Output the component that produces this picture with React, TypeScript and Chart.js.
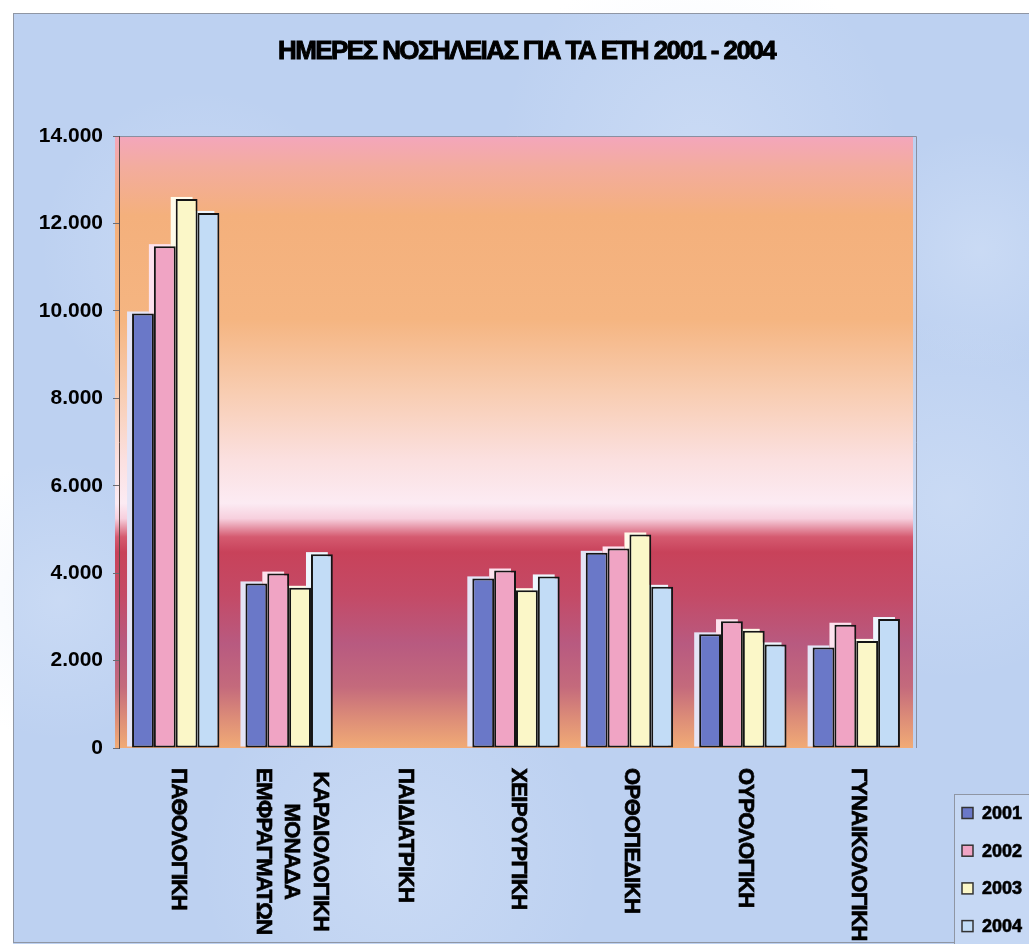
import { useEffect, useRef } from 'react';
import { Chart, registerables } from 'chart.js';

Chart.register(...registerables);

const categories: string[][] = [
  ['ΠΑΘΟΛΟΓΙΚΗ'],
  ['ΚΑΡΔΙΟΛΟΓΙΚΗ', 'ΜΟΝΑΔΑ', 'ΕΜΦΡΑΓΜΑΤΩΝ'],
  ['ΠΑΙΔΙΑΤΡΙΚΗ'],
  ['ΧΕΙΡΟΥΡΓΙΚΗ'],
  ['ΟΡΘΟΠΕΔΙΚΗ'],
  ['ΟΥΡΟΛΟΓΙΚΗ'],
  ['ΓΥΝΑΙΚΟΛΟΓΙΚΗ'],
];
const years = ['2001', '2002', '2003', '2004'];
const values2001 = [9940, 3765, null, 3880, 4465, 2600, 2300];
const values2002 = [11480, 3990, null, 4060, 4565, 2900, 2820];
const values2003 = [12560, 3665, null, 3610, 4885, 2680, 2450];
const values2004 = [12240, 4435, null, 3925, 3687, 2370, 2950];
const yTickLabels = ['0', '2.000', '4.000', '6.000', '8.000', '10.000', '12.000', '14.000'];
const titleText = 'ΗΜΕΡΕΣ ΝΟΣΗΛΕΙΑΣ ΓΙΑ ΤΑ ΕΤΗ 2001 - 2004';

const barColors = ['#6a78c8', '#f0a4c4', '#fbf7c8', '#c2dcf6'];
const glowColors = ['#e4e4f6', '#fde2ee', '#fffbea', '#eef6fe'];
const FONT = '"Liberation Sans", Arial, sans-serif';

const W = 1029;
const H = 944;

const decorPlugin = {
  id: 'decor',
  beforeDraw(chart: any) {
    const { ctx, chartArea } = chart;
    ctx.save();
    ctx.fillStyle = '#ffffff';
    ctx.fillRect(0, 0, W, H);
    ctx.fillStyle = '#bdd1f1';
    ctx.fillRect(13, 13, W, H);
    const blobs = [
      [200, 250, 160], [700, 150, 200], [950, 500, 180], [400, 860, 200], [60, 600, 140], [980, 250, 120],
    ];
    for (const [bx, by, br] of blobs) {
      const g = ctx.createRadialGradient(bx, by, 0, bx, by, br);
      g.addColorStop(0, 'rgba(225,235,250,0.35)');
      g.addColorStop(1, 'rgba(225,235,250,0)');
      ctx.fillStyle = g;
      ctx.fillRect(bx - br, by - br, br * 2, br * 2);
    }
    ctx.strokeStyle = '#8f96a4';
    ctx.lineWidth = 1;
    ctx.strokeRect(13.5, 13.5, W, H - 15);

    const top = chartArea.top;
    const bottom = chartArea.bottom;
    const grad = ctx.createLinearGradient(0, top, 0, bottom);
    const stops: [number, string][] = [
      [0.0, '#f3a6bc'],
      [0.05, '#f3ac9e'],
      [0.13, '#f4b07c'],
      [0.3, '#f5b581'],
      [0.42, '#f8cdb2'],
      [0.53, '#fbe0e0'],
      [0.6, '#fcebf3'],
      [0.625, '#f7d0de'],
      [0.655, '#d55a70'],
      [0.68, '#c8425a'],
      [0.75, '#c44a66'],
      [0.83, '#b85a80'],
      [0.9, '#c46a7c'],
      [0.95, '#dc8c78'],
      [1.0, '#f1ab76'],
    ];
    for (const [o, c] of stops) grad.addColorStop(o, c);
    ctx.fillStyle = grad;
    ctx.fillRect(chartArea.left - 4, top, chartArea.right - chartArea.left + 4, bottom - top);
    ctx.strokeStyle = '#8a8fa0';
    ctx.beginPath();
    ctx.moveTo(chartArea.left, top + 0.5);
    ctx.lineTo(chartArea.right + 3.5, top + 0.5);
    ctx.lineTo(chartArea.right + 3.5, bottom);
    ctx.stroke();
    ctx.restore();
  },
  beforeDatasetsDraw(chart: any) {
    const { ctx } = chart;
    ctx.save();
    chart.data.datasets.forEach((ds: any, di: number) => {
      const meta = chart.getDatasetMeta(di);
      meta.data.forEach((el: any, i: number) => {
        if (ds.data[i] == null) return;
        const p = el.getProps(['x', 'y', 'base', 'width'], true);
        const left = p.x - p.width / 2;
        ctx.fillStyle = glowColors[di];
        ctx.fillRect(left - 5, p.y - 2, p.width, p.base - p.y + 1);
      });
    });
    ctx.restore();
  },
  afterDraw(chart: any) {
    const { ctx } = chart;
    const xs = chart.scales.x;
    ctx.save();
    // title
    ctx.fillStyle = '#000';
    ctx.strokeStyle = '#000';
    ctx.lineWidth = 0.9;
    ctx.font = `bold 25px ${FONT}`;
    (ctx as any).letterSpacing = '-1.5px';
    ctx.textBaseline = 'middle';
    ctx.textAlign = 'center';
    const tw = ctx.measureText(titleText).width;
    const target = 497;
    ctx.translate(526.5, 52.5);
    ctx.scale(target / tw, 1);
    ctx.fillText(titleText, 0, 0);
    ctx.strokeText(titleText, 0, 0);
    ctx.restore();

    // x labels rotated clockwise
    ctx.save();
    ctx.fillStyle = '#000';
    ctx.strokeStyle = '#000';
    ctx.lineWidth = 0.7;
    ctx.font = `bold 22px ${FONT}`;
    (ctx as any).letterSpacing = '-0.5px';
    ctx.textBaseline = 'middle';
    ctx.textAlign = 'center';
    const lineH = 28.5;
    categories.forEach((lines, i) => {
      const cx = xs.getPixelForValue(i) + 2;
      const widths = lines.map((l) => ctx.measureText(l).width);
      const maxW = Math.max(...widths);
      const n = lines.length;
      lines.forEach((line, k) => {
        const lx = cx + ((n - 1) / 2 - k) * lineH;
        ctx.save();
        ctx.translate(lx, 768 + maxW / 2);
        ctx.rotate(Math.PI / 2);
        ctx.fillText(line, 0, 0);
        ctx.strokeText(line, 0, 0);
        ctx.restore();
      });
    });
    ctx.restore();

    // legend
    ctx.save();
    ctx.fillStyle = '#c6d8f4';
    ctx.fillRect(954, 794, 100, 200);
    ctx.strokeStyle = '#8f96a4';
    ctx.lineWidth = 1;
    ctx.strokeRect(954.5, 794.5, 100, 200);
    ctx.font = `bold 18px ${FONT}`;
    ctx.textBaseline = 'middle';
    ctx.textAlign = 'left';
    years.forEach((y, k) => {
      const cy = 813 + k * 37.7;
      ctx.fillStyle = barColors[k];
      ctx.fillRect(962, cy - 5.5, 11, 11);
      ctx.strokeStyle = '#333';
      ctx.lineWidth = 1.5;
      ctx.strokeRect(962, cy - 5.5, 11, 11);
      ctx.fillStyle = '#000';
      ctx.strokeStyle = '#000';
      ctx.lineWidth = 0.6;
      ctx.fillText(y, 982, cy + 1);
      ctx.strokeText(y, 982, cy + 1);
    });
    ctx.restore();
  },
};

export default function App() {
  const ref = useRef<HTMLCanvasElement | null>(null);
  useEffect(() => {
    if (!ref.current) return;
    const mk = (data: (number | null)[], k: number) => ({
      label: years[k],
      data,
      backgroundColor: barColors[k],
      borderColor: '#151515',
      borderWidth: 2,
      borderSkipped: false,
      categoryPercentage: 0.77,
      barPercentage: 1.0,
    });
    const chart = new Chart(ref.current, {
      type: 'bar',
      data: {
        labels: categories.map((c) => c.join(' ')),
        datasets: [mk(values2001, 0), mk(values2002, 1), mk(values2003, 2), mk(values2004, 3)],
      },
      options: {
        responsive: false,
        animation: false,
        devicePixelRatio: 1,
        layout: { padding: { left: 0, top: 136, right: 116, bottom: 196 } },
        plugins: { legend: { display: false }, title: { display: false }, tooltip: { enabled: false } },
        scales: {
          x: {
            grid: { display: false },
            border: { display: false },
            ticks: { display: false },
            afterFit: (s: any) => { s.height = 0; },
          },
          y: {
            min: 0,
            max: 14000,
            ticks: {
              stepSize: 2000,
              color: '#000',
              font: { family: FONT, size: 21, weight: 'bold' },
              padding: 10,
              callback: (_v: any, i: number) => yTickLabels[i],
            },
            grid: { drawOnChartArea: false, drawTicks: true, tickLength: 6, color: '#6d6a70' },
            border: { display: true, color: '#5a4a48', width: 1 },
            afterFit: (s: any) => { s.width = 119; },
          },
        },
      },
      plugins: [decorPlugin],
    } as any);
    return () => chart.destroy();
  }, []);
  return (
    <div style={{ position: 'fixed', left: 0, top: 0, width: W, height: H, overflow: 'hidden' }}>
      <canvas ref={ref} width={W} height={H} style={{ width: W, height: H, display: 'block' }} />
    </div>
  );
}
